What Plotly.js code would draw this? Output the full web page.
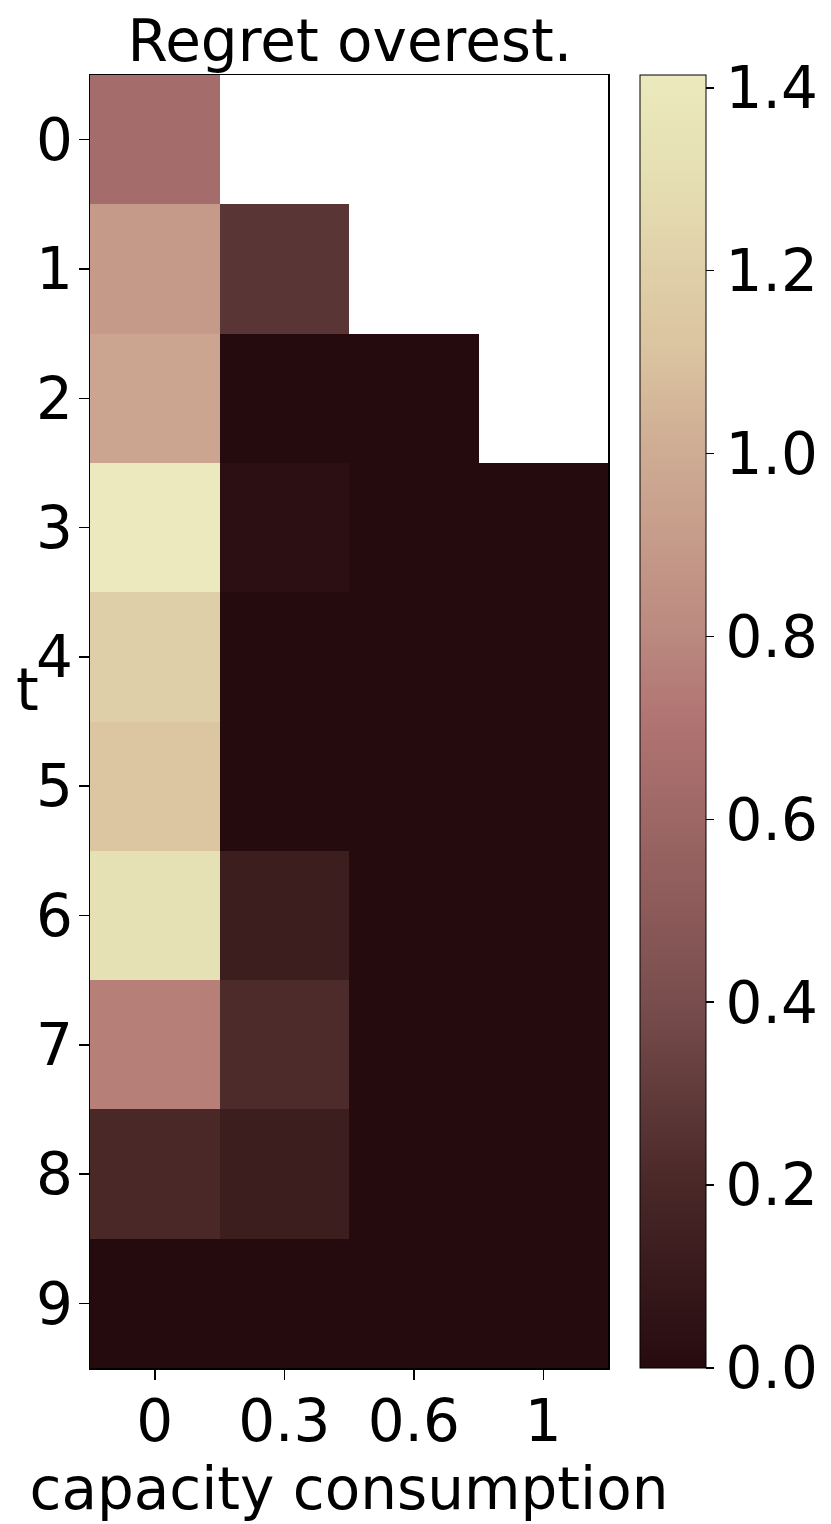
<!DOCTYPE html>
<html>
<head>
<meta charset="utf-8">
<script src="https://cdn.plot.ly/plotly-3.0.1.min.js"></script>
<style>html,body{margin:0;padding:0;background:#fff;}</style>
</head>
<body>
<div id="chart" style="width:831px;height:1524px;"></div>
<script>
const xLabels = ["0", "0.3", "0.6", "1"];
const yLabels = ["0", "1", "2", "3", "4", "5", "6", "7", "8", "9"];
const z = [
  [0.64, null, null, null],
  [0.90, 0.27, null, null],
  [0.96, 0.00, 0.00, null],
  [1.414, 0.03, 0.00, 0.00],
  [1.20, 0.00, 0.00, 0.00],
  [1.13, 0.00, 0.00, 0.00],
  [1.32, 0.13, 0.00, 0.00],
  [0.76, 0.22, 0.00, 0.00],
  [0.20, 0.13, 0.00, 0.00],
  [0.00, 0.00, 0.00, 0.00]
];
const colorbarTicks = [0, 0.2, 0.4, 0.6, 0.8, 1.0, 1.2, 1.4];

const colorscale = [
  [0.0, "#260b0e"],
  [0.143, "#4a2828"],
  [0.286, "#7a4e4e"],
  [0.429, "#9e6866"],
  [0.5, "#b07472"],
  [0.571, "#bb8a80"],
  [0.643, "#c69c8a"],
  [0.714, "#cfad94"],
  [0.786, "#dbc3a0"],
  [0.857, "#e0d1aa"],
  [0.929, "#e6e0b4"],
  [1.0, "#ebe9bd"]
];

const FONT = "DejaVu Sans, sans-serif";
const FS = 58;
const trace = {
  type: "heatmap",
  x: xLabels,
  y: yLabels,
  z: z,
  zmin: 0,
  zmax: 1.414,
  colorscale: colorscale,
  hoverongaps: false,
  colorbar: {
    x: 1.062, xanchor: "left", xpad: 0,
    y: 0.5, yanchor: "middle", len: 1, lenmode: "fraction", ypad: 0,
    thickness: 66,
    outlinewidth: 1, outlinecolor: "#000",
    tickvals: colorbarTicks,
    ticktext: colorbarTicks.map(v => v.toFixed(1)),
    ticks: "outside", ticklen: 8, tickwidth: 1.5, tickcolor: "#000",
    tickfont: {family: FONT, size: FS, color: "#000"}
  }
};

const layout = {
  width: 831, height: 1524,
  margin: {l: 90, r: 223, t: 75, b: 156},
  paper_bgcolor: "#fff",
  plot_bgcolor: "#fff",
  title: {text: "Regret overest.", font: {family: FONT, size: FS, color: "#000"}, x: 0.421, xanchor: "center", y: 0.973, yanchor: "middle"},
  xaxis: {
    type: "category",
    showline: true, mirror: true, linecolor: "#000", linewidth: 1.5,
    ticks: "outside", ticklen: 10, tickwidth: 1.5, tickcolor: "#000",
    ticklabelstandoff: -8,
    tickfont: {family: FONT, size: FS, color: "#000"},
    showgrid: false, zeroline: false,
    title: {text: "capacity consumption", font: {family: FONT, size: FS, color: "#000"}, standoff: 0}
  },
  yaxis: {
    type: "category",
    autorange: "reversed",
    showline: true, mirror: true, linecolor: "#000", linewidth: 1.5,
    ticks: "outside", ticklen: 10, tickwidth: 1.5, tickcolor: "#000",
    ticklabelstandoff: -6,
    tickfont: {family: FONT, size: FS, color: "#000"},
    showgrid: false, zeroline: false
  },
  annotations: [{
    text: "t", xref: "paper", yref: "paper", x: -0.095, y: 0.524,
    xanchor: "right", yanchor: "middle", showarrow: false,
    font: {family: FONT, size: FS, color: "#000"}
  }]
};

Plotly.newPlot("chart", [trace], layout, {staticPlot: true, displayModeBar: false});
</script>
</body>
</html>
